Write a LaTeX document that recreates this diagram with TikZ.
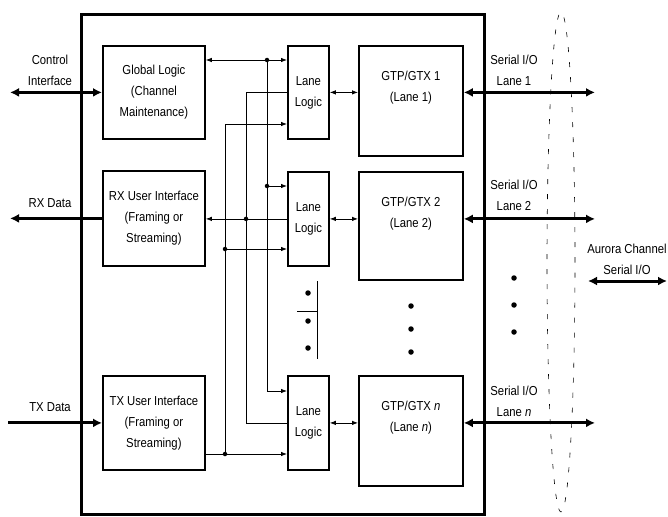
\documentclass[tikz,border=0pt]{standalone}
\usepackage{fontspec}
\setmainfont{Liberation Sans}[FakeStretch=0.87]
\usetikzlibrary{arrows.meta,calc}
\begin{document}
\begin{tikzpicture}[x=1pt,y=-1pt,
  lbl/.style={font=\fontsize{13}{21}\selectfont, align=center, inner sep=0},
  blk/.style={draw, line width=1.8pt, anchor=north west, inner sep=0, align=center, font=\fontsize{13}{21}\selectfont},
  wire/.style={line width=0.8pt},
  warr/.style={wire, -{Latex[length=6pt,width=4.5pt]}},
  wdbl/.style={wire, {Latex[length=6pt,width=4.5pt]}-{Latex[length=6pt,width=4.5pt]}},
  barr/.style={line width=3pt, -{Latex[length=9pt,width=9pt]}},
  bdbl/.style={line width=3pt, {Latex[length=9pt,width=9pt]}-{Latex[length=9pt,width=9pt]}},
  jdot/.style={fill, circle, inner sep=0, minimum size=4.5pt},
  ldot/.style={fill, circle, inner sep=0, minimum size=5.5pt},
  ell/.style={line width=0.6pt, dash pattern=on 5pt off 10pt}]
\useasboundingbox (0,0) rectangle (668,516);

% dashed channel ellipse
\draw[ell] (561,262) ellipse [x radius=14pt, y radius=250pt];

% outer device
\node[draw, line width=3pt, minimum width=403pt, minimum height=500pt, anchor=north west, inner sep=0] (chip) at (80,13) {};

% blocks
\node[blk, minimum width=102pt, minimum height=93pt] (gl) at (102,45) {Global Logic\\(Channel\\Maintenance)};
\node[blk, minimum width=102pt, minimum height=95pt] (rx) at (102,170) {RX User Interface\\(Framing or\\Streaming)};
\node[blk, minimum width=102pt, minimum height=94pt] (tx) at (102,375) {TX User Interface\\(Framing or\\Streaming)};
\node[blk, minimum width=41pt, minimum height=93pt] (ll1) at (287,45) {Lane\\Logic};
\node[blk, minimum width=41pt, minimum height=94pt] (ll2) at (287,171) {Lane\\Logic};
\node[blk, minimum width=41pt, minimum height=94pt] (lln) at (287,375) {Lane\\Logic};
\node[blk, minimum width=104pt, minimum height=110pt] (g1) at (358,45) {};
\node[blk, minimum width=104pt, minimum height=108pt] (g2) at (358,171) {};
\node[blk, minimum width=104pt, minimum height=110pt] (gn) at (358,375) {};
\node[lbl] (g1t) at ($(g1.north)+(0,43)$) {GTP/GTX 1\\(Lane 1)};
\node[lbl] (g2t) at ($(g2.north)+(0,43)$) {GTP/GTX 2\\(Lane 2)};
\node[lbl] (gnt) at ($(gn.north)+(0,43)$) {GTP/GTX \textit{n}\\(Lane \textit{n})};

% helper coordinates
\coordinate (r60) at (0,60);
\coordinate (r124) at (0,124);
\coordinate (r186) at (0,186);
\coordinate (r249) at (0,249);
\coordinate (r391) at (0,391);
\coordinate (r454) at (0,454);
\coordinate (c267) at (267,0);
\coordinate (c246) at (246,0);
\coordinate (c225) at (225,0);

% bus at x=267 (global logic)
\draw[wdbl] (gl.east |- r60) -- (ll1.west |- r60);
\draw[warr] (c267 |- r60) -- (c267 |- r391) -- (lln.west |- r391);
\draw[warr] (c267 |- r186) -- (ll2.west |- r186);
\node[jdot] (j1) at (c267 |- r60) {};
\node[jdot] (j2) at (c267 |- r186) {};

% bus at x=246 (to RX)
\draw[wire] (ll1.west) -- (c246 |- ll1.west) -- (c246 |- lln.west) -- (lln.west);
\draw[warr] (c246 |- ll2.west) -- (rx.east |- ll2.west);
\draw[wire] (ll2.west) -- (c246 |- ll2.west);
\node[jdot] (k2) at (c246 |- ll2.west) {};

% bus at x=225 (from TX)
\draw[warr] (c225 |- r454) -- (c225 |- r124) -- (ll1.west |- r124);
\draw[warr] (c225 |- r249) -- (ll2.west |- r249);
\draw[warr] (tx.east |- r454) -- (lln.west |- r454);
\node[jdot] (m2) at (c225 |- r249) {};
\node[jdot] (m3) at (c225 |- r454) {};

% lane logic <-> GTP
\draw[wdbl] (ll1.east) -- (g1.west |- ll1.east);
\draw[wdbl] (ll2.east) -- (g2.west |- ll2.east);
\draw[wdbl] (lln.east) -- (gn.west |- lln.east);

% ellipsis dots
\node[ldot] (d1) at (308,293) {};
\node[ldot] (d2) at (308,321) {};
\node[ldot] (d3) at (308,348) {};
\draw[wire] (317,281) -- (317,359);
\draw[wire] (297,311) -- (317,311);
\node[ldot] (e1) at (411,306) {};
\node[ldot] (e2) at (411,329) {};
\node[ldot] (e3) at (411,352) {};
\node[ldot] (f1) at (514,278) {};
\node[ldot] (f2) at (514,305) {};
\node[ldot] (f3) at (514,332) {};

% serial I/O
\coordinate (se) at (595,0);
\draw[bdbl] (g1.east |- ll1.east) -- (se |- ll1.east);
\draw[bdbl] (g2.east |- ll2.east) -- (se |- ll2.east);
\draw[bdbl] (gn.east |- lln.east) -- (se |- lln.east);
\node[lbl] (s1) at (514,70) {Serial I/O\\Lane 1};
\node[lbl] (s2) at (514,195) {Serial I/O\\Lane 2};
\node[lbl] (sn) at (514,401) {Serial I/O\\Lane \textit{n}};

% aurora channel
\node[lbl] (au) at (627,259) {Aurora Channel\\Serial I/O};
\coordinate (aa) at (588,281);
\coordinate (ab) at (667,281);
\draw[bdbl] (aa) -- (ab);

% left interfaces
\coordinate (xl) at (10,0);
\coordinate (xt) at (8,0);
\node[lbl] (ci) at (50,70) {Control\\Interface};
\draw[bdbl] (xl |- gl.west) -- (gl.west);
\node[lbl] (rxl) at (50,203) {RX Data};
\draw[barr] (rx.west) -- (xl |- rx.west);
\node[lbl] (txl) at (50,407) {TX Data};
\draw[barr] (xt |- tx.west) -- (tx.west);
\end{tikzpicture}
\end{document}
